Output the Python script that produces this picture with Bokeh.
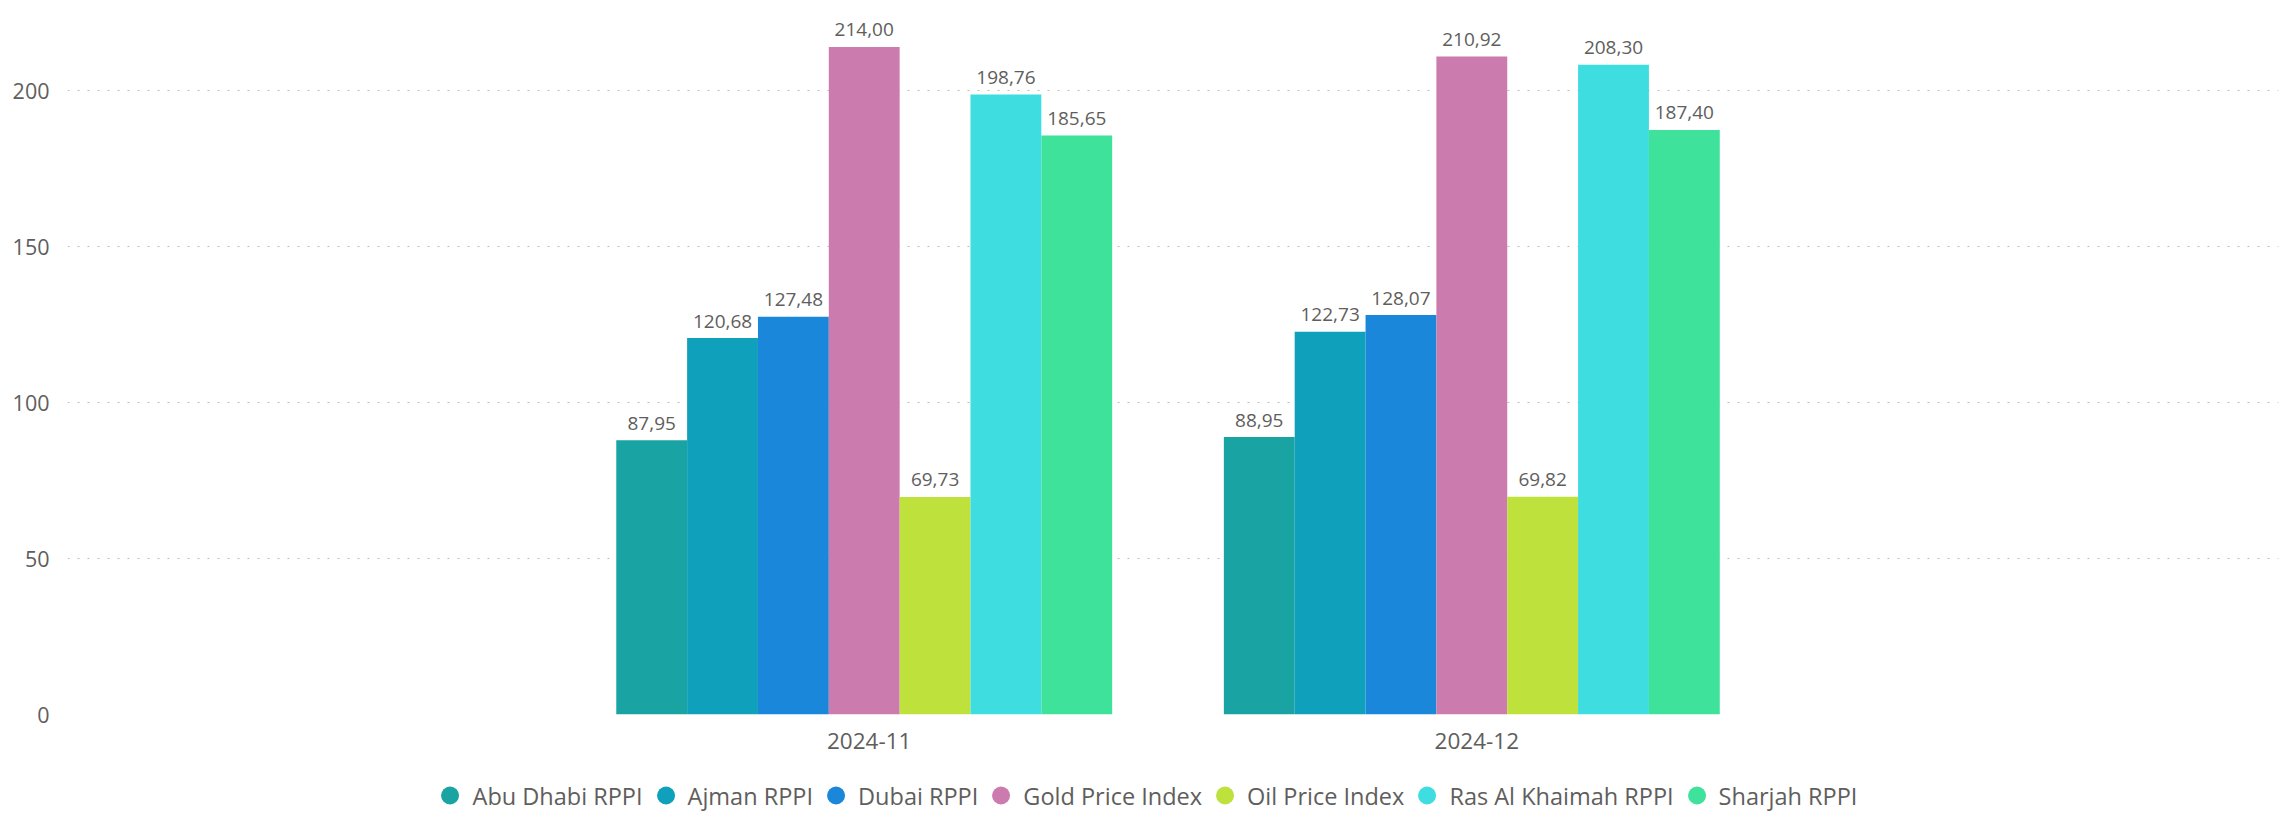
from bokeh.plotting import figure
from bokeh.layouts import column
from bokeh.models import (ColumnDataSource, FactorRange, Range1d, Legend, LegendItem,
                          FixedTicker)
from bokeh.transform import dodge
from bokeh.embed import file_html
from bokeh.resources import INLINE
from bokeh.core.properties import value

# ---------------- data ----------------
months = ["2024-11", "2024-12"]
series = ["Abu Dhabi RPPI", "Ajman RPPI", "Dubai RPPI", "Gold Price Index",
          "Oil Price Index", "Ras Al Khaimah RPPI", "Sharjah RPPI"]
abu_dhabi = [87.95, 88.95]
ajman = [120.68, 122.73]
dubai = [127.48, 128.07]
gold = [214.00, 210.92]
oil = [69.73, 69.82]
ras_al_khaimah = [198.76, 208.30]
sharjah = [185.65, 187.40]
y_ticks = [0, 50, 100, 150, 200]

colors = ["#1AA3A3", "#0FA0BB", "#1B87DB", "#CC7BAE", "#BEE13C", "#3EDDE0", "#3FE29B"]
values = [abu_dhabi, ajman, dubai, gold, oil, ras_al_khaimah, sharjah]

FONT = "Open Sans"
TXT = "#605E5C"

xr = FactorRange(factors=months, range_padding=0.8195)

# ---------------- main chart ----------------
p = figure(x_range=xr, y_range=Range1d(0, 228.9),
           frame_width=2211, frame_height=714, output_backend="svg", toolbar_location=None,
           min_border_left=67, min_border_right=7, min_border_top=0, min_border_bottom=60)
p.outline_line_color = None
p.background_fill_color = "white"
p.border_fill_color = "white"

# ---------------- legend strip ----------------
lf = figure(x_range=xr, y_range=Range1d(0, 1),
            frame_width=2283, frame_height=42, output_backend="svg", toolbar_location=None,
            x_axis_type=None, y_axis_type=None,
            min_border_left=2, min_border_right=0, min_border_top=0, min_border_bottom=0)
lf.outline_line_color = None
lf.border_fill_color = "white"
lf.background_fill_color = "white"

bar_w = 0.1166
shift = -0.0082
items = []
for i, (name, vals, col) in enumerate(zip(series, values, colors)):
    src = ColumnDataSource(dict(month=months, value=vals,
                                label=[f"{v:.2f}".replace(".", ",") for v in vals]))
    off = (i - 3) * bar_w + shift
    p.vbar(x=dodge("month", off, range=xr), top="value", width=bar_w,
           source=src, fill_color=col, line_color=None)
    p.text(x=dodge("month", off, range=xr), y="value", text="label", source=src,
           text_align="center", text_baseline="alphabetic", y_offset=-17,
           text_font=value(FONT), text_font_size="19px", text_color=TXT)
    # marker renderer used only for the legend swatch (zero size, draws nothing)
    r = lf.scatter(x=dodge("month", off, range=xr), y="value", source=src,
                   marker="circle", size=0, fill_color=col, line_color=None)
    items.append(LegendItem(label=name, renderers=[r]))

p.xgrid.grid_line_color = None
p.ygrid.grid_line_color = "#BDBDBD"
p.ygrid.grid_line_dash = "2 8"
p.ygrid.grid_line_width = 1

p.yaxis.ticker = FixedTicker(ticks=y_ticks)
for ax in (p.xaxis[0], p.yaxis[0]):
    ax.axis_line_color = None
    ax.major_tick_line_color = None
    ax.minor_tick_line_color = None
    ax.major_tick_out = 0
    ax.major_tick_in = 0
    ax.minor_tick_out = 0
    ax.major_label_text_font = FONT
    ax.major_label_text_color = TXT
p.yaxis.major_label_text_font_size = "21.5px"
p.yaxis.major_label_standoff = 18
p.xaxis.major_label_text_font_size = "22.5px"
p.xaxis.major_label_standoff = 18

legend = Legend(items=items, orientation="horizontal", location="center", nrows=1,
                glyph_width=45, glyph_height=45, label_standoff=-7, spacing=0,
                padding=0, margin=0, border_line_color=None, background_fill_alpha=0,
                label_text_font=FONT, label_text_font_size="23.5px", label_text_color=TXT)
lf.add_layout(legend, "center")

layout = column(p, lf, spacing=0)
open("out.html", "w").write(file_html(layout, INLINE))
